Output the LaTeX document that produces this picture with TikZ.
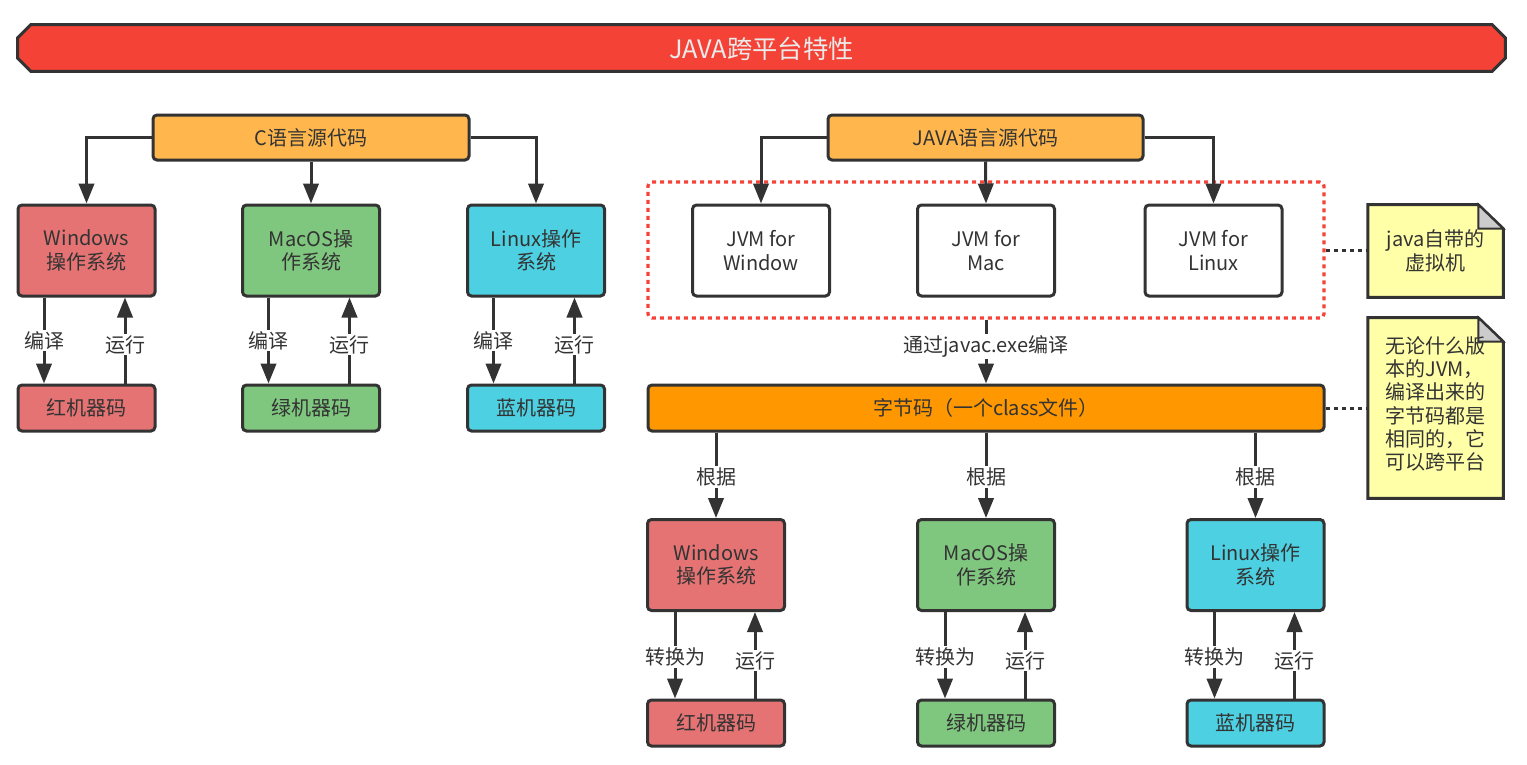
\documentclass[tikz,border=0pt]{standalone}
\usepackage{fontspec}
\setmainfont{Noto Sans CJK SC}
\usetikzlibrary{arrows.meta,calc}
\def\px{0.75pt}
\definecolor{ink}{HTML}{333333}
\definecolor{cred}{HTML}{E57373}
\definecolor{cgreen}{HTML}{7FC67F}
\definecolor{ccyan}{HTML}{4DD0E1}
\definecolor{csrc}{HTML}{FFB74D}
\definecolor{cbyte}{HTML}{FF9800}
\definecolor{ctitle}{HTML}{F44336}
\definecolor{cnote}{HTML}{FFFFA8}
\definecolor{cfold}{HTML}{CCCCCC}
\definecolor{cdot}{HTML}{F8413A}
\tikzset{
  box/.style={draw=ink, line width=3*\px, rounded corners=4*\px, align=center,
    text=ink, font=\fontsize{15pt}{17.5pt}\selectfont, inner sep=0pt},
  osbox/.style={box, minimum width=137*\px, minimum height=91*\px},
  mcbox/.style={box, minimum width=137*\px, minimum height=46*\px},
  arr/.style={draw=ink, line width=3*\px, -{Triangle[length=15pt,width=11.5pt]}},
  lbl/.style={fill=white, text=ink, font=\fontsize{15pt}{17.5pt}\selectfont, inner sep=1pt},
  dots/.style={draw=ink, line width=3*\px, dash pattern=on 4.5*\px off 3.5*\px},
  notetext/.style={text=ink, font=\fontsize{15pt}{17.5pt}\selectfont, inner sep=0pt},
}
\begin{document}
\begin{tikzpicture}[x=0.75pt,y=-0.75pt]
\useasboundingbox (0,0) rectangle (1527,764);
\fill[white] (0,0) rectangle (1527,764);

% title
\node[minimum width=1487*\px, minimum height=46*\px, inner sep=0pt] (title) at (761.5,48) {};
\draw[fill=ctitle, draw=ink, line width=3*\px]
  ([yshift=-13*\px]title.north west) -- ([xshift=13*\px]title.north west)
  -- ([xshift=-13*\px]title.north east) -- ([yshift=-13*\px]title.north east)
  -- ([yshift=13*\px]title.south east) -- ([xshift=-13*\px]title.south east)
  -- ([xshift=13*\px]title.south west) -- ([yshift=13*\px]title.south west) -- cycle;
\node[text=white!92!black, font=\fontsize{19pt}{22pt}\selectfont] (titletext) at ([yshift=-1*\px]title.center) {JAVA跨平台特性};

% ---------- C part ----------
\node[box, fill=csrc, minimum width=316*\px, minimum height=45*\px] (csrcnode) at (311,137.5) {C语言源代码};
\node[osbox, fill=cred]   (win1) at (86.5,250.5) {Windows\\操作系统};
\node[osbox, fill=cgreen] (mac1) at (311,250.5) {MacOS操\\作系统};
\node[osbox, fill=ccyan]  (lin1) at (536,250.5) {Linux操作\\系统};
\node[mcbox, fill=cred]   (red1) at (86.5,408) {红机器码};
\node[mcbox, fill=cgreen] (grn1) at (311,408) {绿机器码};
\node[mcbox, fill=ccyan]  (blu1) at (536,408) {蓝机器码};

\draw[arr] (csrcnode.west) -| (win1.north);
\draw[arr] (csrcnode.south) -- (mac1.north);
\draw[arr] (csrcnode.east) -| (lin1.north);

\foreach \a/\b in {win1/red1, mac1/grn1, lin1/blu1}{
  \draw[arr] ([xshift=-42.5*\px]\a.south) -- node[lbl, pos=0.5]{编译} ([xshift=-42.5*\px]\b.north);
  \draw[arr] ([xshift=38.5*\px]\b.north) -- node[lbl, pos=0.45]{运行} ([xshift=38.5*\px]\a.south);
}

% ---------- JAVA part ----------
\node[box, fill=csrc, minimum width=315*\px, minimum height=45*\px] (jsrc) at (985.5,137.5) {JAVA语言源代码};
\node[draw=cdot, line width=3.2*\px, dash pattern=on 4*\px off 4*\px, rounded corners=4*\px,
      minimum width=676*\px, minimum height=136*\px, inner sep=0pt] (jvmgroup) at (986,250) {};
\node[osbox, fill=white] (jvw) at (761,250.5) {JVM for\\Window};
\node[osbox, fill=white] (jvm) at (986,250.5) {JVM for\\Mac};
\node[osbox, fill=white] (jvl) at (1213.5,250.5) {JVM for\\Linux};

\draw[arr] (jsrc.west) -| (jvw.north);
\draw[arr] (jsrc.south) -- (jvm.north);
\draw[arr] (jsrc.east) -| (jvl.north);

\node[box, fill=cbyte, minimum width=676*\px, minimum height=46*\px] (bytecode) at (986,408) {字节码（一个class文件）};
\draw[arr] (jvmgroup.south) -- node[lbl, pos=0.42]{通过javac.exe编译} (bytecode.north);

\node[osbox, fill=cred]   (win2) at (716,565) {Windows\\操作系统};
\node[osbox, fill=cgreen] (mac2) at (986,565) {MacOS操\\作系统};
\node[osbox, fill=ccyan]  (lin2) at (1255.5,565) {Linux操作\\系统};
\node[mcbox, fill=cred]   (red2) at (716,723) {红机器码};
\node[mcbox, fill=cgreen] (grn2) at (986,723) {绿机器码};
\node[mcbox, fill=ccyan]  (blu2) at (1255.5,723) {蓝机器码};

\foreach \a in {win2, mac2, lin2}{
  \draw[arr] (\a.north |- bytecode.south) -- node[lbl, pos=0.52]{根据} (\a.north);
}
\foreach \a/\b in {win2/red2, mac2/grn2, lin2/blu2}{
  \draw[arr] ([xshift=-41*\px]\a.south) -- node[lbl, pos=0.52]{转换为} ([xshift=-41*\px]\b.north);
  \draw[arr] ([xshift=39*\px]\b.north) -- node[lbl, pos=0.44]{运行} ([xshift=39*\px]\a.south);
}

% ---------- notes ----------
\node[minimum width=135*\px, minimum height=92*\px, inner sep=0pt] (note1) at (1435.5,251) {};
\node[minimum width=135*\px, minimum height=180*\px, inner sep=0pt] (note2) at (1435.5,408) {};
\foreach \n in {note1, note2}{
  \draw[fill=cnote, draw=ink, line width=3*\px, line join=miter]
    (\n.north west) -- ([xshift=-25*\px]\n.north east) -- ([yshift=-24*\px]\n.north east)
    -- (\n.south east) -- (\n.south west) -- cycle;
  \draw[fill=cfold, draw=ink, line width=2*\px, line join=miter]
    ([xshift=-25*\px]\n.north east) -- ([xshift=-25*\px, yshift=-24*\px]\n.north east)
    -- ([yshift=-24*\px]\n.north east) -- cycle;
}
\node[notetext, align=center] (note1text) at ([yshift=0*\px]note1.center) {java自带的\\虚拟机};
\node[notetext, align=left] (note2text) at ([yshift=4*\px]note2.center) {无论什么版\\本的JVM，\\编译出来的\\字节码都是\\相同的，它\\可以跨平台};

\draw[dots] (jvmgroup.east) -- (note1.west |- jvmgroup.east);
\draw[dots] (bytecode.east) -- (note2.west);
\end{tikzpicture}
\end{document}
